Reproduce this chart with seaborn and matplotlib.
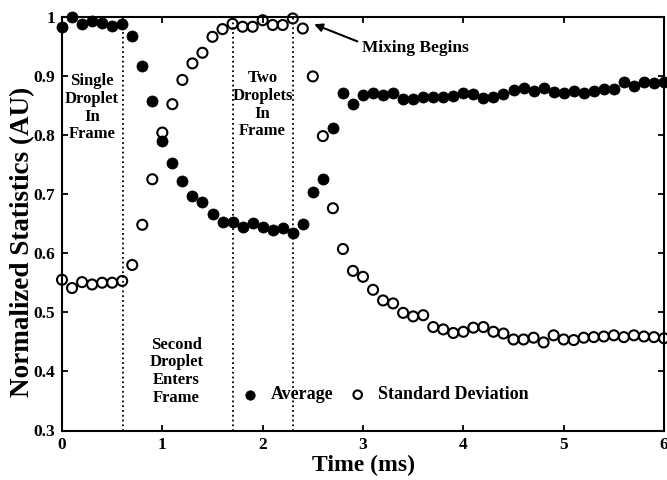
import matplotlib
matplotlib.use("Agg")
import matplotlib.pyplot as plt
from matplotlib.ticker import FuncFormatter, MultipleLocator
import numpy as np
import pandas as pd
import seaborn as sns

time_ms = [0.0, 0.1, 0.2, 0.3, 0.4, 0.5, 0.6, 0.7, 0.8, 0.9,
           1.0, 1.1, 1.2, 1.3, 1.4, 1.5, 1.6, 1.7, 1.8, 1.9,
           2.0, 2.1, 2.2, 2.3, 2.4, 2.5, 2.6, 2.7, 2.8, 2.9,
           3.0, 3.1, 3.2, 3.3, 3.4, 3.5, 3.6, 3.7, 3.8, 3.9,
           4.0, 4.1, 4.2, 4.3, 4.4, 4.5, 4.6, 4.7, 4.8, 4.9,
           5.0, 5.1, 5.2, 5.3, 5.4, 5.5, 5.6, 5.7, 5.8, 5.9, 6.0]

average = [0.983, 0.999, 0.988, 0.993, 0.989, 0.984, 0.988, 0.968, 0.916, 0.857,
           0.789, 0.753, 0.722, 0.697, 0.687, 0.666, 0.653, 0.652, 0.645, 0.651,
           0.644, 0.639, 0.643, 0.634, 0.649, 0.704, 0.725, 0.812, 0.871, 0.852,
           0.867, 0.871, 0.867, 0.871, 0.860, 0.861, 0.864, 0.864, 0.864, 0.866,
           0.871, 0.869, 0.862, 0.865, 0.870, 0.876, 0.879, 0.875, 0.880, 0.873,
           0.871, 0.874, 0.871, 0.874, 0.877, 0.877, 0.889, 0.882, 0.889, 0.888, 0.889]

std_dev = [0.555, 0.541, 0.551, 0.547, 0.550, 0.550, 0.553, 0.580, 0.648, 0.725,
           0.804, 0.852, 0.893, 0.921, 0.939, 0.966, 0.979, 0.988, 0.983, 0.983,
           0.994, 0.986, 0.986, 0.997, 0.980, 0.899, 0.798, 0.676, 0.607, 0.570,
           0.560, 0.538, 0.520, 0.515, 0.499, 0.493, 0.495, 0.475, 0.471, 0.465,
           0.467, 0.474, 0.475, 0.467, 0.464, 0.454, 0.454, 0.457, 0.449, 0.461,
           0.454, 0.453, 0.457, 0.458, 0.459, 0.461, 0.458, 0.461, 0.459, 0.458, 0.456]

phase_boundaries = [0.61, 1.70, 2.30]
series_names = ["Average", "Standard Deviation"]

sns.set_theme(style="ticks")
plt.rcParams["font.family"] = ["Liberation Serif", "DejaVu Serif"]
plt.rcParams["font.weight"] = "bold"
plt.rcParams["axes.labelweight"] = "bold"
plt.rcParams["text.color"] = "black"
plt.rcParams["axes.labelcolor"] = "black"
plt.rcParams["xtick.color"] = "black"
plt.rcParams["ytick.color"] = "black"

fig = plt.figure(figsize=(6.67, 4.8), dpi=100)
ax = fig.add_axes([62 / 667, (480 - 430.5) / 480, (664 - 62) / 667, (430.5 - 16.7) / 480])

df_avg = pd.DataFrame({"Time": time_ms, "Value": average})
df_sd = pd.DataFrame({"Time": time_ms, "Value": std_dev})

for xb in phase_boundaries:
    ax.axvline(xb, color="black", linestyle=":", linewidth=1.3, zorder=1)

sns.scatterplot(data=df_avg, x="Time", y="Value", ax=ax, color="black",
                edgecolor="black", s=64, linewidth=0.5, clip_on=False,
                label=series_names[0], zorder=3)
sns.scatterplot(data=df_sd, x="Time", y="Value", ax=ax, facecolors="none",
                edgecolor="black", s=52, linewidth=1.5, clip_on=False,
                label=series_names[1], zorder=3)

ax.set_xlim(0, 6)
ax.set_ylim(0.3, 1.0)
ax.xaxis.set_major_locator(MultipleLocator(1))
ax.yaxis.set_major_locator(MultipleLocator(0.1))
fmt = FuncFormatter(lambda v, p: "%g" % round(v, 2))
ax.xaxis.set_major_formatter(fmt)
ax.yaxis.set_major_formatter(fmt)

for sp in ax.spines.values():
    sp.set_visible(True)
    sp.set_linewidth(1.5)
    sp.set_color("black")
ax.tick_params(direction="in", length=4, width=1.3, top=True, right=True,
               labelsize=12.5, colors="black", pad=5)
for lab in ax.get_xticklabels() + ax.get_yticklabels():
    lab.set_fontweight("bold")

ax.set_xlabel("Time (ms)", fontsize=17, fontweight="bold", labelpad=1)
ax.set_ylabel("Normalized Statistics (AU)", fontsize=19.5, fontweight="bold")
ax.yaxis.set_label_coords(-0.045, 0.455)

txt_kw = dict(ha="center", va="center", fontsize=12, fontweight="bold",
              linespacing=1.15, color="black")
ax.text(0.30, 0.846, "Single\nDroplet\nIn\nFrame", **txt_kw)
ax.text(2.00, 0.851, "Two\nDroplets\nIn\nFrame", **txt_kw)
ax.text(1.14, 0.400, "Second\nDroplet\nEnters\nFrame", **txt_kw)

ax.annotate("Mixing Begins", xy=(2.50, 0.988), xytext=(2.99, 0.947),
            ha="left", va="center", fontsize=12.5, fontweight="bold", color="black",
            arrowprops=dict(arrowstyle="-|>", color="black", lw=1.5,
                            shrinkA=1, shrinkB=1, relpos=(0.0, 0.8),
                            mutation_scale=12))

ax.legend(loc="center", bbox_to_anchor=(0.535, 0.086), ncol=2, frameon=False,
          markerscale=0.85, handlelength=1.2, handletextpad=0.55,
          columnspacing=0.75, labelcolor="black",
          prop={"size": 13, "weight": "bold", "family": ["Liberation Serif"]})

fig.savefig("out.png", dpi=100)
